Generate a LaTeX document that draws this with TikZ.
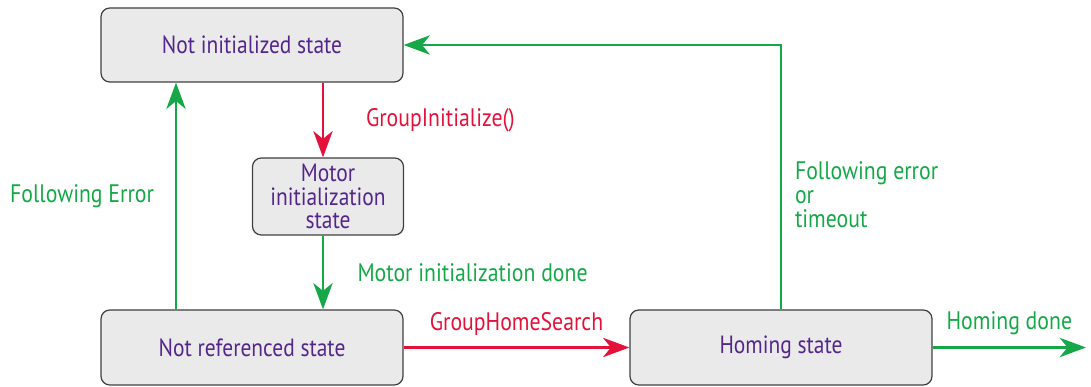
\documentclass[tikz,border=0pt]{standalone}
\usepackage{fontspec}
\setmainfont{PT Sans}[FakeStretch=0.86]
\usepackage{tikz}
\usetikzlibrary{arrows.meta, calc}
\usepackage{xcolor}

\definecolor{statetext}{RGB}{84,38,140}
\definecolor{cmdred}{RGB}{228,18,58}
\definecolor{evgreen}{RGB}{22,168,72}
\definecolor{boxfill}{RGB}{234,234,234}

\tikzset{
    statebox/.style={draw=black!75, line width=0.7pt, fill=boxfill, rounded corners=5pt,
        text=statetext, align=center, font=\fontsize{14.2}{13.6}\selectfont},
    redarrow/.style={draw=cmdred, line width=1.3pt, -{Stealth[length=15pt, width=11pt, inset=4.5pt]}},
    greenarrow/.style={draw=evgreen, line width=1.3pt, -{Stealth[length=15pt, width=11pt, inset=4.5pt]}},
    redlabel/.style={text=cmdred, font=\fontsize{14.4}{13.6}\selectfont},
    greenlabel/.style={text=evgreen, font=\fontsize{14.4}{13.6}\selectfont, align=left}
}

\begin{document}
\begin{tikzpicture}
    \useasboundingbox (0,0) rectangle (21.82,7.74);
    % Zustaende
    \node[statebox, minimum width=6.04cm, minimum height=1.48cm] (notinit) at (5.04,6.84) {Not initialized state};
    \node[statebox, minimum width=3.02cm, minimum height=1.54cm, inner sep=1pt] (motorinit) at (6.56,3.81) {Motor\\initialization\\state};
    \node[statebox, minimum width=6.04cm, minimum height=1.5cm] (notref) at (5.04,0.79) {Not referenced state};
    \node[statebox, minimum width=6.04cm, minimum height=1.5cm] (homing) at (15.62,0.79) {Homing state};
    \coordinate (done) at (21.72,0.79);
    % Uebergaenge
    \draw[redarrow] ([xshift=-0.1cm]notinit.south -| motorinit.north) -- ([xshift=-0.1cm]motorinit.north)
        node[midway, right=0.72cm, redlabel] {GroupInitialize()};
    \draw[greenarrow] ([xshift=-0.1cm]motorinit.south) -- ([xshift=-0.1cm]notref.north -| motorinit.south)
        node[midway, right=0.55cm, greenlabel] {Motor initialization done};
    \draw[greenarrow] ([xshift=-1.52cm]notref.north) -- ([xshift=-1.52cm]notinit.south)
        node[midway, left=0.3cm, greenlabel] {Following Error};
    \draw[greenarrow] (homing.north) |- (notinit.east)
        node[pos=0.217, right=0.14cm, greenlabel] {Following error\\or\\timeout};
    \draw[redarrow] (notref.east) -- (homing.west)
        node[midway, above=3pt, redlabel] {GroupHomeSearch};
    \draw[greenarrow] (homing.east) -- (done)
        node[midway, above=3pt, greenlabel] {Homing done};
\end{tikzpicture}
\end{document}
